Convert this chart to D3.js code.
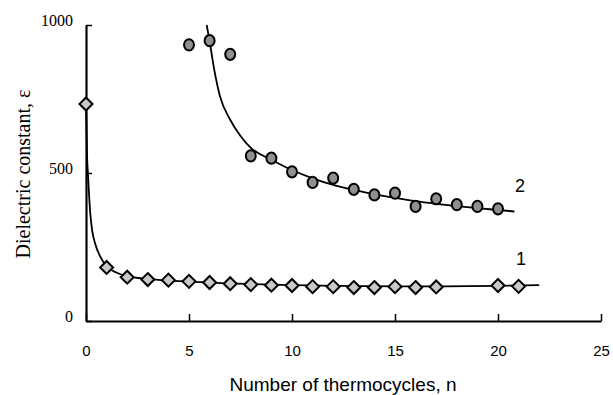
<!DOCTYPE html>
<meta charset="utf-8">
<style>
body { margin: 0; background: #fff; }
svg { display: block; }
.ylab { font-family: "Liberation Serif", "Times New Roman", serif; font-size: 16px; }
.xlab { font-family: "Liberation Sans", Arial, sans-serif; font-size: 15px; }
</style>
<body>
<svg width="613" height="395"></svg>
<script src="https://d3js.org/d3.v7.min.js"></script>
<script>
// measured points, series 1 (diamonds)
var n1 = [0, 1, 2, 3, 4, 5, 6, 7, 8, 9, 10, 11, 12, 13, 14, 15, 16, 17, 20, 21];
var eps1 = [733, 181, 148, 140, 138, 134, 130, 126, 123, 121, 120, 116, 116, 113, 113, 116, 113, 115, 120, 117];

// measured points, series 2 (circles)
var n2 = [5, 6, 7, 8, 9, 10, 11, 12, 13, 14, 15, 16, 17, 18, 19, 20];
var eps2 = [933, 947, 901, 558, 550, 504, 468, 483, 445, 426, 432, 387, 413, 393, 387, 379];

// fitted curves
var fit1x = [0, 0.05, 0.1, 0.2, 0.3, 0.45, 0.68, 1, 1.5, 2, 3, 5, 8, 12, 16, 22];
var fit1y = [733, 560, 490, 370, 305, 260, 219, 185, 163, 152, 142, 133, 125, 119, 117, 121];
var fit2x = [5.86, 6, 6.25, 6.5, 7, 7.5, 8, 9, 10, 11, 12, 13, 14, 15, 16, 17, 18, 19, 20, 20.8];
var fit2y = [1000, 945, 840, 760, 680, 625, 585, 545, 510, 482, 460, 443, 428, 416, 405, 396, 388, 381, 375, 370];

var xTicks = [0, 5, 10, 15, 20, 25];
var yTicks = [0, 500, 1000];

var svg = d3.select("svg");
var x = d3.scaleLinear().domain([0, 25]).range([86, 601]);
var y = d3.scaleLinear().domain([0, 1000]).range([321, 25]);

// axes
var xAxis = svg.append("g").attr("transform", "translate(0,321)")
  .call(d3.axisBottom(x).tickValues(xTicks).tickSizeInner(-7).tickSizeOuter(0).tickPadding(24));
xAxis.select(".domain").attr("stroke-width", 2.2);
xAxis.selectAll(".tick line").attr("stroke-width", 1.5);
xAxis.selectAll("text").attr("class", "xlab").attr("font-size", null).attr("font-family", null).attr("fill", "#000");

var yAxis = svg.append("g").attr("transform", "translate(86,0)")
  .call(d3.axisLeft(y).tickValues(yTicks).tickFormat(d3.format("d")).tickSizeInner(-6).tickSizeOuter(0).tickPadding(13));
yAxis.select(".domain").attr("stroke-width", 2.2);
yAxis.selectAll(".tick line").attr("stroke-width", 1.5);
yAxis.selectAll("text").attr("class", "ylab").attr("font-size", null).attr("font-family", null)
  .attr("fill", "#000").attr("dy", "0.05em");

// axis titles
svg.append("text").attr("x", 343).attr("y", 391)
  .attr("text-anchor", "middle")
  .style("font-family", "'Liberation Sans', Arial, sans-serif").style("font-size", "19px")
  .text("Number of thermocycles, n");
svg.append("text").attr("transform", "translate(30,174) rotate(-90)")
  .attr("text-anchor", "middle")
  .style("font-family", "'Liberation Serif', 'Times New Roman', serif").style("font-size", "20px")
  .text("Dielectric constant, \u03b5");

// fitted lines
var line = d3.line().x(function(d) { return x(d[0]); }).y(function(d) { return y(d[1]); })
  .curve(d3.curveMonotoneX);
svg.append("path").datum(d3.zip(fit1x, fit1y)).attr("d", line)
  .attr("fill", "none").attr("stroke", "#000").attr("stroke-width", 1.8);
svg.append("path").datum(d3.zip(fit2x, fit2y)).attr("d", line)
  .attr("fill", "none").attr("stroke", "#000").attr("stroke-width", 1.8);

// markers
svg.append("g").selectAll("path").data(d3.zip(n1, eps1)).enter().append("path")
  .attr("d", "M0,-6.5L6.5,0L0,6.5L-6.5,0Z")
  .attr("transform", function(d) { return "translate(" + x(d[0]) + "," + y(d[1]) + ")"; })
  .attr("fill", "#c8c8c8").attr("stroke", "#000").attr("stroke-width", 2);

svg.append("g").selectAll("ellipse").data(d3.zip(n2, eps2)).enter().append("ellipse")
  .attr("cx", function(d) { return x(d[0]); })
  .attr("cy", function(d) { return y(d[1]); })
  .attr("rx", 5).attr("ry", 5.6)
  .attr("fill", "#8f8f8f").attr("stroke", "#000").attr("stroke-width", 2);

// curve numbers
svg.append("text").attr("x", 520).attr("y", 192).attr("text-anchor", "middle")
  .style("font-family", "'Liberation Sans', Arial, sans-serif").style("font-size", "18px").text("2");
svg.append("text").attr("x", 521).attr("y", 265).attr("text-anchor", "middle")
  .style("font-family", "'Liberation Sans', Arial, sans-serif").style("font-size", "18px").text("1");
</script>
</body>
